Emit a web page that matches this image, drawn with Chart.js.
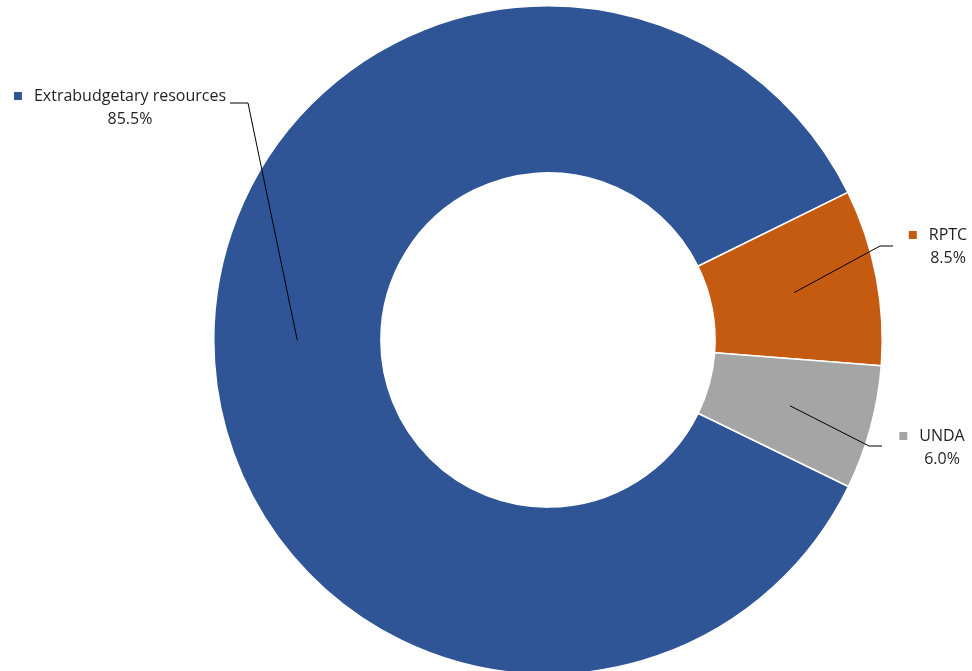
<!DOCTYPE html>
<html lang="en">
<head>
    <meta charset="UTF-8">
    <title>Resources by source</title>
    <style>
        html, body {
            margin: 0;
            padding: 0;
            background: #ffffff;
            overflow: hidden;
        }
        .chart-box {
            position: relative;
            width: 972px;
            height: 680px;
        }
    </style>
</head>
<body>
    <div class="chart-box">
        <canvas id="sourceChart"></canvas>
    </div>

    <script src="https://cdn.jsdelivr.net/npm/chart.js"></script>
    <script>
        const sources = ['Extrabudgetary resources', 'RPTC', 'UNDA'];
        const shares = [85.5, 8.5, 6.0];
        const colors = ['#2F5597', '#C55A11', '#A5A5A5'];

        // where each callout sits: text centre (x), first line (y),
        // the end of the leader line and the elbow before it
        const callouts = [
            { tx: 130, ty: 96, ex: 230, ey: 103, kx: 248 },
            { tx: 948, ty: 235, ex: 893, ey: 246, kx: 880 },
            { tx: 942, ty: 436, ex: 882, ey: 446, kx: 869 }
        ];

        const calloutPlugin = {
            id: 'callouts',
            afterDatasetsDraw(chart) {
                const ctx = chart.ctx;
                const arcs = chart.getDatasetMeta(0).data;
                ctx.save();
                ctx.font = '16px "Open Sans", sans-serif';
                ctx.textBaseline = 'middle';
                arcs.forEach((arc, i) => {
                    const c = callouts[i];
                    const p = arc.getCenterPoint();

                    ctx.strokeStyle = '#000000';
                    ctx.lineWidth = 1;
                    ctx.beginPath();
                    ctx.moveTo(p.x, p.y);
                    ctx.lineTo(c.kx, c.ey);
                    ctx.lineTo(c.ex, c.ey);
                    ctx.stroke();

                    const name = sources[i];
                    const w = ctx.measureText(name).width;
                    ctx.fillStyle = colors[i];
                    ctx.fillRect(c.tx - w / 2 - 20, c.ty - 4, 8, 8);

                    ctx.fillStyle = '#1f1f1f';
                    ctx.textAlign = 'center';
                    ctx.fillText(name, c.tx, c.ty);
                    ctx.fillText(shares[i].toFixed(1) + '%', c.tx, c.ty + 23);
                });
                ctx.restore();
            }
        };

        new Chart(document.getElementById('sourceChart'), {
            type: 'doughnut',
            data: {
                labels: sources,
                datasets: [{
                    data: shares,
                    backgroundColor: colors,
                    borderColor: '#ffffff',
                    borderWidth: 1.5
                }]
            },
            options: {
                responsive: true,
                maintainAspectRatio: false,
                animation: false,
                cutout: '50%',
                rotation: 116,
                layout: {
                    padding: { left: 213, right: 89, top: 5, bottom: 5 }
                },
                plugins: {
                    legend: { display: false },
                    tooltip: { enabled: false }
                }
            },
            plugins: [calloutPlugin]
        });
    </script>
</body>
</html>
